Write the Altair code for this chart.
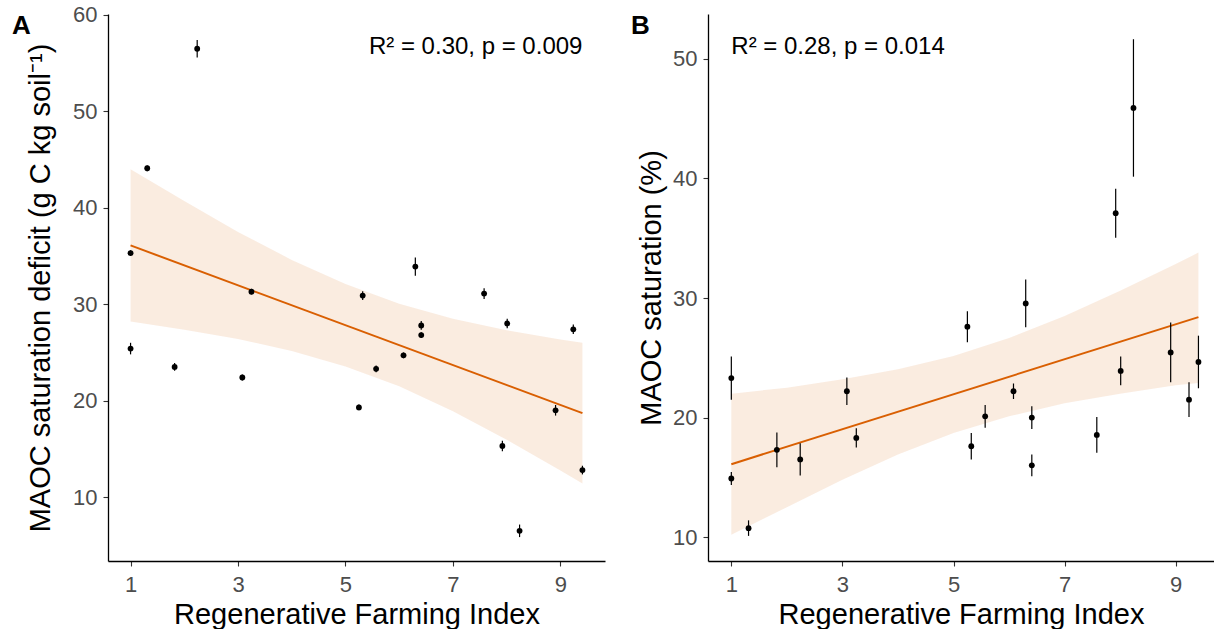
import altair as alt
import pandas as pd

# ---------------- data ----------------
rfi = [1.0, 1.0, 1.31, 1.82, 2.24, 3.08, 3.25, 5.25, 5.32, 5.57, 6.08,
       6.30, 6.41, 6.41, 7.58, 7.92, 8.01, 8.24, 8.91, 9.24, 9.41]

a_deficit = [35.3, 25.4, 44.1, 23.5, 56.5, 22.4, 31.3, 19.3, 30.9, 23.3, 24.7,
             33.9, 27.8, 26.8, 31.1, 15.3, 28.0, 6.5, 19.0, 27.4, 12.8]
a_err = [0.3, 0.6, 0.3, 0.4, 0.9, 0.3, 0.3, 0.3, 0.45, 0.35, 0.3,
         0.95, 0.45, 0.3, 0.55, 0.55, 0.5, 0.65, 0.55, 0.5, 0.45]

b_sat = [23.3, 14.9, 10.75, 17.3, 16.5, 22.2, 18.3, 27.6, 17.6, 20.1, 22.2,
         29.55, 20.0, 16.0, 18.55, 37.1, 23.9, 45.9, 25.45, 21.5, 24.65]
b_err = [1.8, 0.55, 0.65, 1.45, 1.35, 1.15, 0.8, 1.3, 1.1, 0.95, 0.65,
         2.0, 0.95, 0.9, 1.5, 2.05, 1.2, 5.75, 2.5, 1.45, 2.2]

band_x = [1, 2, 3, 4, 5, 6, 7, 8, 9, 9.41]
a_band_lo = [28.2, 27.35, 26.4, 25.15, 23.55, 21.5, 18.9, 15.95, 12.75, 11.4]
a_band_hi = [44.0, 40.7, 37.5, 34.6, 32.1, 30.05, 28.5, 27.3, 26.35, 26.0]
b_band_lo = [10.2, 12.5, 14.8, 16.9, 18.7, 20.1, 21.2, 22.0, 22.7, 22.9]
b_band_hi = [22.0, 22.5, 23.2, 24.05, 25.15, 26.65, 28.5, 30.6, 32.85, 33.8]

fit_x = [1.0, 9.41]
a_fit = [36.1, 18.7]
b_fit = [16.1, 28.4]

a_stat = "R\u00b2 = 0.30, p = 0.009"
b_stat = "R\u00b2 = 0.28, p = 0.014"
x_title = "Regenerative Farming Index"
a_ytitle = "MAOC saturation deficit (g C kg soil\u207b\u00b9)"
b_ytitle = "MAOC saturation (%)"
x_ticks = [1, 3, 5, 7, 9]

FONT = "Liberation Sans"
ORANGE = "#D95F02"


def panel(yvals, errs, lo, hi, fit, xdom, ydom, yticks, width, ytitle,
          title_pad, tag, tag_x, stat, stat_x, stat_y, stat_align):
    pts = pd.DataFrame({
        "x": rfi, "y": yvals,
        "lo": [v - e for v, e in zip(yvals, errs)],
        "hi": [v + e for v, e in zip(yvals, errs)],
    })
    band = pd.DataFrame({"x": band_x, "lo": lo, "hi": hi})
    line = pd.DataFrame({"x": fit_x, "y": fit})
    xs = alt.Scale(domain=xdom, nice=False, zero=False)
    ys = alt.Scale(domain=ydom, nice=False, zero=False)
    xax = alt.Axis(values=x_ticks, format="d", title=x_title,
                   labelPadding=8, titlePadding=5)
    yax = alt.Axis(values=yticks, format="d", title=ytitle,
                   labelPadding=6, titlePadding=title_pad)

    ribbon = alt.Chart(band).mark_area(color=ORANGE, opacity=0.12).encode(
        x=alt.X("x:Q", scale=xs, axis=xax),
        y=alt.Y("lo:Q", scale=ys, axis=yax),
        y2="hi:Q",
    )
    fitline = alt.Chart(line).mark_line(color=ORANGE, strokeWidth=2).encode(
        x=alt.X("x:Q", scale=xs), y=alt.Y("y:Q", scale=ys))
    bars = alt.Chart(pts).mark_rule(color="black", strokeWidth=1.2).encode(
        x=alt.X("x:Q", scale=xs), y=alt.Y("lo:Q", scale=ys), y2="hi:Q")
    dots = alt.Chart(pts).mark_circle(color="black", opacity=1, size=34).encode(
        x=alt.X("x:Q", scale=xs), y=alt.Y("y:Q", scale=ys))
    st = alt.Chart(pd.DataFrame({"x": [stat_x], "y": [stat_y], "t": [stat]})).mark_text(
        font=FONT, fontSize=24, color="black", align=stat_align, baseline="alphabetic"
    ).encode(x=alt.X("x:Q", scale=xs), y=alt.Y("y:Q", scale=ys), text="t:N")
    lab = alt.Chart(pd.DataFrame({"t": [tag]})).mark_text(
        font=FONT, fontSize=26, fontWeight="bold", color="black",
        align="left", baseline="alphabetic"
    ).encode(x=alt.value(tag_x), y=alt.value(20), text="t:N")
    return alt.layer(ribbon, fitline, bars, dots, st, lab).properties(
        width=width, height=547)


pa = panel(a_deficit, a_err, a_band_lo, a_band_hi, a_fit, [0.58, 9.83], [3.37, 60.1],
           [10, 20, 30, 40, 50, 60], 497, a_ytitle, 17, "A", -96,
           a_stat, 9.41, 55.9, "right")
pb = panel(b_sat, b_err, b_band_lo, b_band_hi, b_fit, [0.58, 9.69], [8.0, 53.76],
           [10, 20, 30, 40, 50], 506, b_ytitle, 6, "B", -77,
           b_stat, 1.0, 50.4, "left")

chart = alt.hconcat(pa, pb, spacing=26).properties(
    padding={"left": 12, "top": 3, "right": 0, "bottom": 0}
).configure_view(stroke=None).configure_axis(
    grid=False, domainColor="black", domainWidth=1.3, tickColor="#333333",
    tickSize=5, tickWidth=1.1, labelColor="#4D4D4D", labelFont=FONT,
    labelFontSize=22, titleFont=FONT, titleFontSize=29, titleColor="black",
    titleFontWeight="normal"
)

chart.save("out.html", embed_options={"renderer": "svg", "actions": False})
